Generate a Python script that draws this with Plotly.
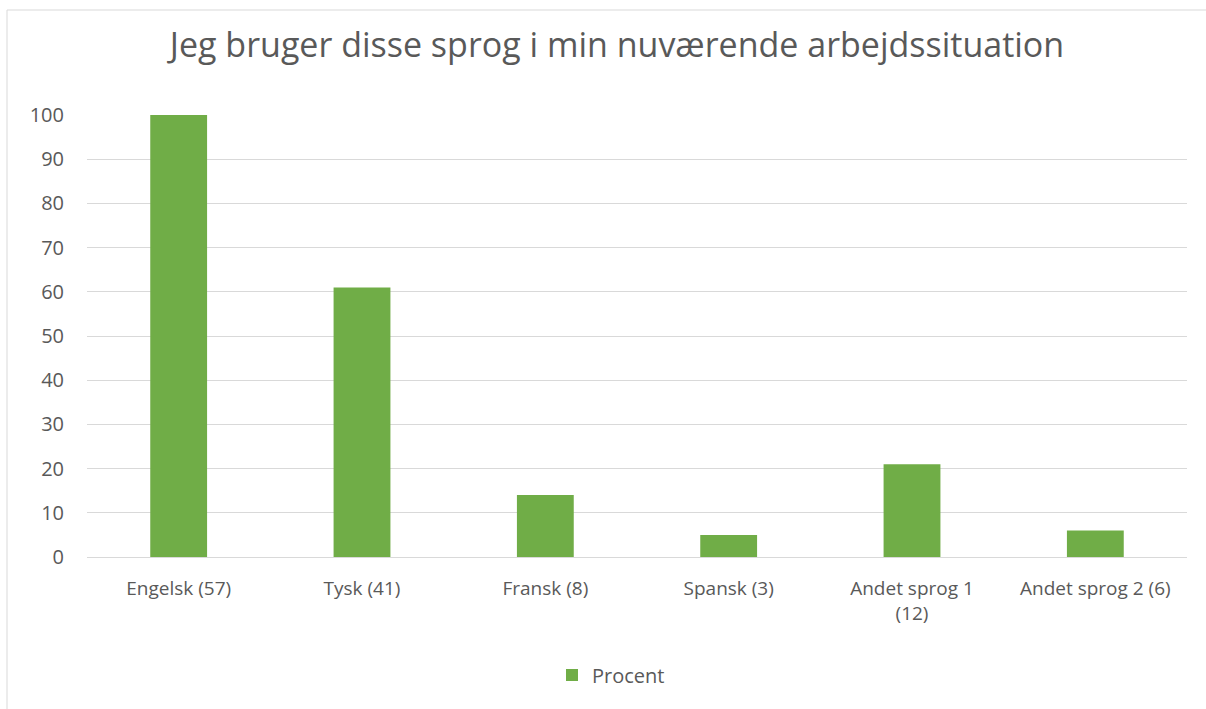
import plotly.graph_objects as go

categories = ["Engelsk (57)", "Tysk (41)", "Fransk (8)", "Spansk (3)", "Andet sprog 1<br>(12)", "Andet sprog 2 (6)"]
values = [100, 61, 14, 5, 21, 6]
series_name = "Procent"
y_ticks = list(range(0, 101, 10))

W, H = 1206, 709
L, R, T, B = 87, 19, 115, 152
pw = W - L - R
ph = H - T - B

def px(x):
    return (x - L) / pw

def py(y):
    return (H - B - y) / ph

fig = go.Figure()
fig.add_trace(go.Bar(
    x=categories, y=values, name=series_name,
    marker=dict(color="#70AD47", line=dict(width=0)),
    showlegend=True,
))

font_family = "Open Sans, Noto Sans, sans-serif"
fig.update_layout(
    width=W, height=H,
    margin=dict(l=L, r=R, t=T, b=B),
    paper_bgcolor="white", plot_bgcolor="white",
    font=dict(family=font_family, color="#595959", size=19),
    title=dict(text="Jeg bruger disse sprog i min nuværende arbejdssituation",
               x=px(617), xanchor="center", xref="paper", y=1 - 45 / H, yanchor="middle",
               yref="container", font=dict(size=34, color="#595959", family=font_family)),
    bargap=0.69,
    showlegend=True,
    legend=dict(orientation="h", x=px(552), xanchor="left", y=34 / H, yanchor="middle",
                yref="container", itemwidth=30, font=dict(size=20, color="#595959")),
    xaxis=dict(showgrid=False, showline=True, linecolor="#D9D9D9", linewidth=1,
               ticks="", tickfont=dict(size=19, color="#595959"), ticklabelstandoff=14),
    yaxis=dict(range=[0, 100], tickvals=y_ticks, showgrid=True, gridcolor="#D9D9D9",
               gridwidth=1, zeroline=False, showline=False, ticks="",
               tickfont=dict(size=20, color="#595959"), ticklabelstandoff=22),
    shapes=[
        dict(type="line", xref="paper", yref="paper", x0=px(7), x1=px(7), y0=py(10), y1=py(H),
             line=dict(color="#D9D9D9", width=1)),
        dict(type="line", xref="paper", yref="paper", x0=px(7), x1=px(W), y0=py(10), y1=py(10),
             line=dict(color="#D9D9D9", width=1)),
    ],
)

fig.write_html("out.html", config={"displayModeBar": False},
               post_script="document.body.style.margin='0';document.body.style.overflow='hidden';")
